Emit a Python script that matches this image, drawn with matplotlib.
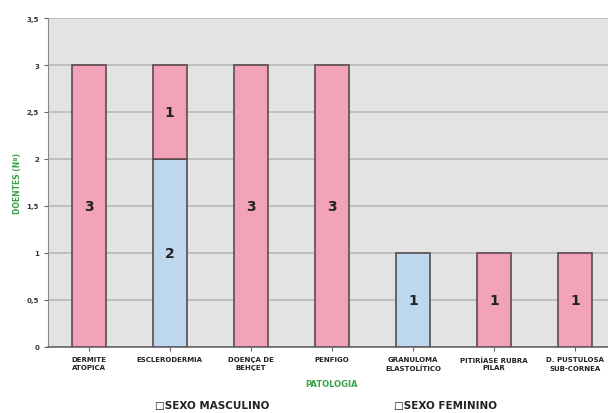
import matplotlib.pyplot as plt
import numpy as np

patologias = ["DERMITE\nATOPICA", "ESCLERODERMIA", "DOENÇA DE\nBEHÇET", "PENFIGO",
              "GRANULOMA\nELASTOLÍTICO", "PITIRÍASE RUBRA\nPILAR", "D. PUSTULOSA\nSUB-CÓRNEA"]
masculino = [0, 2, 0, 0, 1, 0, 0]
feminino = [3, 1, 3, 3, 0, 1, 1]
yticks = [0, 0.5, 1, 1.5, 2, 2.5, 3, 3.5]
ytick_labels = ["0", "0,5", "1", "1,5", "2", "2,5", "3", "3,5"]

COR_MASC = "#bcd7ee"
COR_FEM = "#f3a3b9"
COR_BORDA = "#5b4b4e"
VERDE = "#3aa24a"

fig = plt.figure(figsize=(6.08, 4.14), dpi=100)
ax = fig.add_axes([0.079, 0.16, 0.934, 0.794])
ax.set_facecolor("#e3e3e3")

x = np.arange(len(patologias))
w = 0.42
masc = np.array(masculino)
fem = np.array(feminino)

for i in x:
    if masc[i] > 0:
        ax.bar(i, masc[i], w, color=COR_MASC, edgecolor=COR_BORDA, linewidth=1.2, zorder=3)
        ax.text(i, masc[i] / 2, str(masc[i]), ha="center", va="center",
                fontsize=10, fontweight="bold", color="#222222", zorder=4)
    if fem[i] > 0:
        ax.bar(i, fem[i], w, bottom=masc[i], color=COR_FEM, edgecolor=COR_BORDA,
               linewidth=1.2, zorder=3)
        ax.text(i, masc[i] + fem[i] / 2, str(fem[i]), ha="center", va="center",
                fontsize=10, fontweight="bold", color="#222222", zorder=4)

ax.set_xlim(-0.5, len(patologias) - 0.5)
ax.set_ylim(0, 3.5)
ax.set_yticks(yticks)
ax.set_yticklabels(ytick_labels, fontsize=5, fontweight="bold", color="#333333")
ax.set_xticks(x)
ax.set_xticklabels(patologias, fontsize=5, fontweight="bold", color="#222222",
                   linespacing=1.3)
ax.tick_params(axis="both", length=3, color="#666666")
ax.tick_params(axis="x", pad=4)
ax.yaxis.grid(True, color="#b8b8b8", linewidth=1.2, zorder=0)
ax.set_axisbelow(True)
for s in ["top", "right"]:
    ax.spines[s].set_visible(False)
ax.spines["left"].set_color("#888888")
ax.spines["bottom"].set_color("#666666")
ax.spines["bottom"].set_linewidth(1.2)

ax.set_ylabel("DOENTES (Nº)", fontsize=5.5, fontweight="bold", color=VERDE, labelpad=3)
ax.set_xlabel("PATOLOGIA", fontsize=6, fontweight="bold", color=VERDE, labelpad=6)

# legend below the axis
fig.text(0.255, 0.012, "□SEXO MASCULINO", fontsize=7.5, fontweight="bold", color="#222222")
fig.text(0.648, 0.012, "□SEXO FEMININO", fontsize=7.5, fontweight="bold", color="#222222")

fig.savefig("out.png", dpi=100)
